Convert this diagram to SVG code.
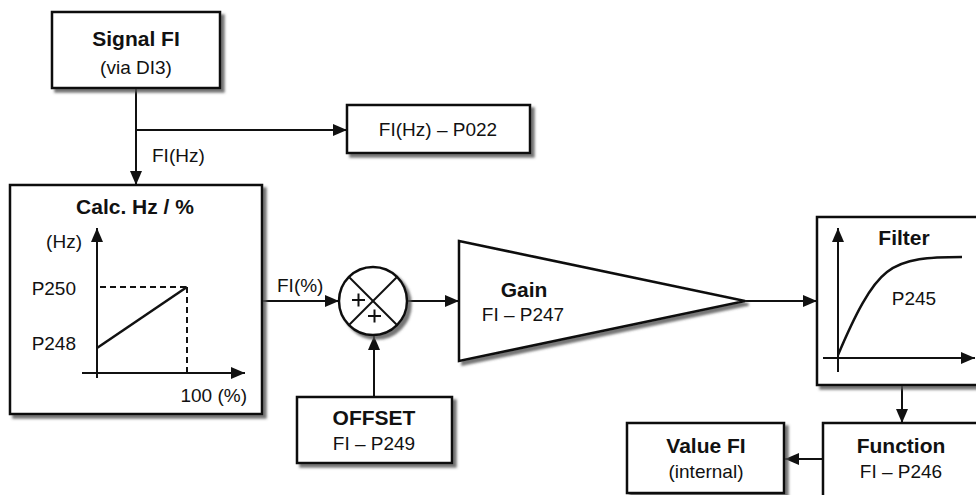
<svg xmlns="http://www.w3.org/2000/svg" width="976" height="495" viewBox="0 0 976 495">
<style>
text{font-family:"Liberation Sans",Arial,Helvetica,sans-serif;fill:#111}
.b{font-weight:bold;font-size:21px}
.r{font-size:19px}
.box{fill:#fff;stroke:#111;stroke-width:2.5;filter:url(#sh)}
.ln{fill:none;stroke:#111;stroke-width:2}
.ax{fill:none;stroke:#111;stroke-width:2}
.dash{fill:none;stroke:#111;stroke-width:2;stroke-dasharray:6,4}
.cur{fill:none;stroke:#111;stroke-width:2.5}
</style>
<defs>
<filter id="sh" x="-10%" y="-10%" width="130%" height="130%">
<feDropShadow dx="3.5" dy="3.5" stdDeviation="1.2" flood-color="#555" flood-opacity="0.8"/>
</filter>
<marker id="ar" markerUnits="userSpaceOnUse" markerWidth="14" markerHeight="12" viewBox="0 0 14 12" refX="14" refY="6" orient="auto">
<path d="M0,0 L14,6 L0,12 Z" fill="#111"/>
</marker>
</defs>
<rect width="976" height="495" fill="#fff"/>

<g id="connectors">
<line class="ln" x1="136" y1="88" x2="136" y2="185" marker-end="url(#ar)"/>
<line class="ln" x1="136" y1="130" x2="347" y2="130" marker-end="url(#ar)"/>
<line class="ln" x1="262" y1="301" x2="339" y2="301" marker-end="url(#ar)"/>
<line class="ln" x1="374" y1="397" x2="374" y2="336" marker-end="url(#ar)"/>
<line class="ln" x1="407" y1="301" x2="459" y2="301" marker-end="url(#ar)"/>
<line class="ln" x1="745" y1="301" x2="817" y2="301" marker-end="url(#ar)"/>
<line class="ln" x1="902" y1="385" x2="902" y2="423" marker-end="url(#ar)"/>
<line class="ln" x1="823" y1="459" x2="785" y2="459" marker-end="url(#ar)"/>
<text class="r" x="152" y="162">FI(Hz)</text>
<text class="r" x="277" y="292">FI(%)</text>
</g>

<g id="signal">
<rect class="box" x="52" y="12" width="168" height="76"/>
<text class="b" x="136" y="46" text-anchor="middle">Signal FI</text>
<text class="r" x="136" y="74" text-anchor="middle">(via DI3)</text>
</g>

<g id="p022">
<rect class="box" x="347" y="105" width="183" height="48"/>
<text class="r" x="438" y="136" text-anchor="middle">FI(Hz) – P022</text>
</g>

<g id="calc">
<rect class="box" x="10" y="185" width="252" height="229"/>
<text class="b" x="135" y="214" text-anchor="middle">Calc. Hz / %</text>
<line class="ax" x1="97" y1="378" x2="97" y2="228" marker-end="url(#ar)"/>
<line class="ax" x1="82" y1="373" x2="245" y2="373" marker-end="url(#ar)"/>
<line class="dash" x1="100" y1="287" x2="187" y2="287"/>
<line class="dash" x1="187" y1="287" x2="187" y2="373"/>
<line class="cur" x1="97" y1="348" x2="187" y2="287"/>
<text class="r" x="82" y="248" text-anchor="end">(Hz)</text>
<text class="r" x="76" y="295" text-anchor="end">P250</text>
<text class="r" x="76" y="350" text-anchor="end">P248</text>
<text class="r" x="247" y="402" text-anchor="end">100 (%)</text>
</g>

<g id="sum">
<circle cx="373" cy="301" r="34" fill="#fff" stroke="#111" stroke-width="2.5" filter="url(#sh)"/>
<line class="ln" x1="349" y1="277" x2="397" y2="325"/>
<line class="ln" x1="397" y1="277" x2="349" y2="325"/>
<line class="ln" x1="352" y1="300" x2="365" y2="300"/>
<line class="ln" x1="358.5" y1="293.5" x2="358.5" y2="306.5"/>
<line class="ln" x1="368" y1="316" x2="381" y2="316"/>
<line class="ln" x1="374.5" y1="309.5" x2="374.5" y2="322.5"/>
</g>

<g id="offset">
<rect class="box" x="297" y="397" width="155" height="66"/>
<text class="b" x="374" y="425" text-anchor="middle">OFFSET</text>
<text class="r" x="374" y="450" text-anchor="middle">FI – P249</text>
</g>

<g id="gain">
<polygon class="box" points="459,241 745,301 459,361"/>
<text class="b" x="524" y="297" text-anchor="middle">Gain</text>
<text class="r" x="523" y="321" text-anchor="middle">FI – P247</text>
</g>

<g id="filter">
<rect class="box" x="817" y="217" width="200" height="168"/>
<line class="ax" x1="838" y1="372" x2="838" y2="228" marker-end="url(#ar)"/>
<line class="ax" x1="823" y1="358" x2="975" y2="358" marker-end="url(#ar)"/>
<path class="cur" d="M838,355 C855,315 870,285 887,272 C905,258 930,257 962,257"/>
<text class="b" x="904" y="245" text-anchor="middle">Filter</text>
<text class="r" x="914" y="305" text-anchor="middle">P245</text>
</g>

<g id="function">
<rect class="box" x="823" y="423" width="200" height="80"/>
<text class="b" x="901" y="453" text-anchor="middle">Function</text>
<text class="r" x="901" y="478" text-anchor="middle">FI – P246</text>
</g>

<g id="value">
<rect class="box" x="627" y="423" width="157" height="70"/>
<text class="b" x="706" y="453" text-anchor="middle">Value FI</text>
<text class="r" x="706" y="478" text-anchor="middle">(internal)</text>
</g>
</svg>
